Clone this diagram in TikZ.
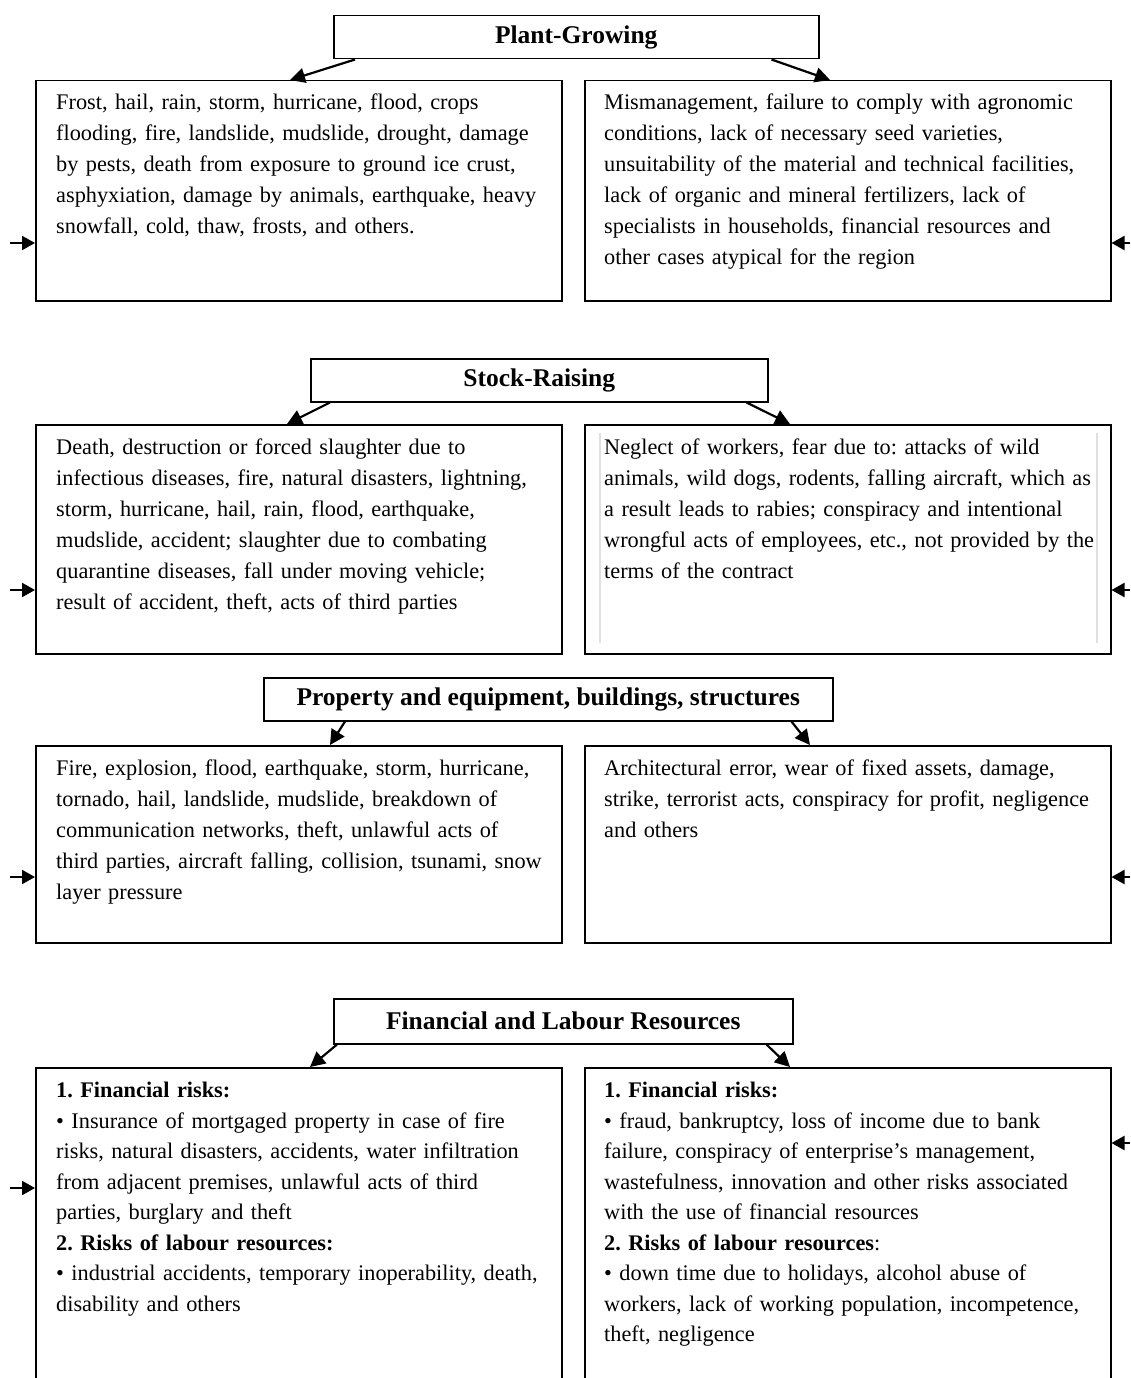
\documentclass[tikz,border=0pt]{standalone}
\usepackage{fontspec}
\setmainfont{Liberation Serif}
\usetikzlibrary{arrows.meta,calc}
\frenchspacing
\begin{document}
\begin{tikzpicture}[x=1pt,y=-1pt,
  box/.style={draw, line width=1.5pt, anchor=north west, inner sep=0pt, minimum width=526pt},
  titlebox/.style={draw, line width=1.5pt, anchor=north west, inner sep=0pt, font=\fontsize{25.5pt}{30pt}\selectfont\bfseries},
  txt/.style={anchor=north west, inner sep=0pt, align=left, text width=#1, font=\fontsize{22.3pt}{31pt}\selectfont},
  txt/.default=560pt,
  conn/.style={line width=2.2pt, -{Triangle[length=15pt,width=15pt]}},
  side/.style={line width=2.2pt, -{Triangle[length=13pt,width=14pt]}},
  guide/.style={draw=black!12, line width=2pt}]
\useasboundingbox (0,0) rectangle (1130,1378);
\clip (0,0) rectangle (1130,1378);

% ---------- Row 1 ----------
\node[titlebox, minimum width=485pt, minimum height=43pt] (t1) at (333,15) {Plant-Growing};
\node[box, minimum height=220pt] (b1l) at (35,80) {};
\node[box, minimum height=220pt] (b1r) at (584,80) {};
\node[txt] (x1l) at (56,88) {\strut Frost, hail, rain, storm, hurricane, flood, crops\\
flooding, fire, landslide, mudslide, drought, damage\\
by pests, death from exposure to ground ice crust,\\
asphyxiation, damage by animals, earthquake, heavy\\
snowfall, cold, thaw, frosts, and others.};
\node[txt] (x1r) at (604,88) {\strut Mismanagement, failure to comply with agronomic\\
conditions, lack of necessary seed varieties,\\
unsuitability of the material and technical facilities,\\
lack of organic and mineral fertilizers, lack of\\
specialists in households, financial resources and\\
other cases atypical for the region};
\draw[conn] ([xshift=22pt]t1.south west) -- ([xshift=255pt]b1l.north west);
\draw[conn] ([xshift=-48pt]t1.south east) -- ([xshift=246pt]b1r.north west);
\coordinate (s1l) at (10,243);
\coordinate (s1r) at (1130,243);
\draw[side] (s1l) -- (b1l.west |- s1l);
\draw[side] (s1r) -- (b1r.east |- s1r);

% ---------- Row 2 ----------
\node[titlebox, minimum width=457pt, minimum height=43pt] (t2) at (310,358) {Stock-Raising};
\node[box, minimum height=229pt] (b2l) at (35,424) {};
\node[box, minimum height=229pt] (b2r) at (584,424) {};
\draw[guide] (600,433) -- (600,643);
\draw[guide] (1097,433) -- (1097,643);
\node[txt] (x2l) at (56,433) {\strut Death, destruction or forced slaughter due to\\
infectious diseases, fire, natural disasters, lightning,\\
storm, hurricane, hail, rain, flood, earthquake,\\
mudslide, accident; slaughter due to combating\\
quarantine diseases, fall under moving vehicle;\\
result of accident, theft, acts of third parties};
\node[txt] (x2r) at (604,433) {\strut Neglect of workers, fear due to: attacks of wild\\
animals, wild dogs, rodents, falling aircraft, which as\\
a result leads to rabies; conspiracy and intentional\\
wrongful acts of employees, etc., not provided by the\\
terms of the contract};
\draw[conn] ([xshift=20pt]t2.south west) -- ([xshift=252pt]b2l.north west);
\draw[conn] ([xshift=-22pt]t2.south east) -- ([xshift=206pt]b2r.north west);
\coordinate (s2l) at (10,590);
\coordinate (s2r) at (1130,590);
\draw[side] (s2l) -- (b2l.west |- s2l);
\draw[side] (s2r) -- (b2r.east |- s2r);

% ---------- Row 3 ----------
\node[titlebox, minimum width=569pt, minimum height=43pt] (t3) at (263,677) {Property and equipment, buildings, structures};
\node[box, minimum height=197pt] (b3l) at (35,745) {};
\node[box, minimum height=197pt] (b3r) at (584,745) {};
\node[txt] (x3l) at (56,754) {\strut Fire, explosion, flood, earthquake, storm, hurricane,\\
tornado, hail, landslide, mudslide, breakdown of\\
communication networks, theft, unlawful acts of\\
third parties, aircraft falling, collision, tsunami, snow\\
layer pressure};
\node[txt] (x3r) at (604,754) {\strut Architectural error, wear of fixed assets, damage,\\
strike, terrorist acts, conspiracy for profit, negligence\\
and others};
\draw[conn] ([xshift=82pt]t3.south west) -- ([xshift=295pt]b3l.north west);
\draw[conn] ([xshift=-42pt]t3.south east) -- ([xshift=226pt]b3r.north west);
\coordinate (s3l) at (10,877);
\coordinate (s3r) at (1130,877);
\draw[side] (s3l) -- (b3l.west |- s3l);
\draw[side] (s3r) -- (b3r.east |- s3r);

% ---------- Row 4 ----------
\node[titlebox, minimum width=459pt, minimum height=45pt] (t4) at (333,998) {Financial and Labour Resources};
\node[box, minimum height=340pt] (b4l) at (35,1067) {};
\node[box, minimum height=340pt] (b4r) at (584,1067) {};
\node[txt, font=\fontsize{22.3pt}{30.5pt}\selectfont] (x4l) at (56,1076) {\strut\textbf{1. Financial risks:}\\
• Insurance of mortgaged property in case of fire\\
risks, natural disasters, accidents, water infiltration\\
from adjacent premises, unlawful acts of third\\
parties, burglary and theft\\
\textbf{2. Risks of labour resources:}\\
• industrial accidents, temporary inoperability, death,\\
disability and others};
\node[txt, font=\fontsize{22.3pt}{30.5pt}\selectfont] (x4r) at (604,1076) {\strut\textbf{1. Financial risks:}\\
• fraud, bankruptcy, loss of income due to bank\\
failure, conspiracy of enterprise’s management,\\
wastefulness, innovation and other risks associated\\
with the use of financial resources\\
\textbf{2. Risks of labour resources}:\\
• down time due to holidays, alcohol abuse of\\
workers, lack of working population, incompetence,\\
theft, negligence};
\draw[conn] ([xshift=4pt]t4.south west) -- ([xshift=275pt]b4l.north west);
\draw[conn] ([xshift=-27pt]t4.south east) -- ([xshift=206pt]b4r.north west);
\coordinate (s4l) at (10,1188);
\coordinate (s4r) at (1130,1143);
\draw[side] (s4l) -- (b4l.west |- s4l);
\draw[side] (s4r) -- (b4r.east |- s4r);
\end{tikzpicture}
\end{document}
